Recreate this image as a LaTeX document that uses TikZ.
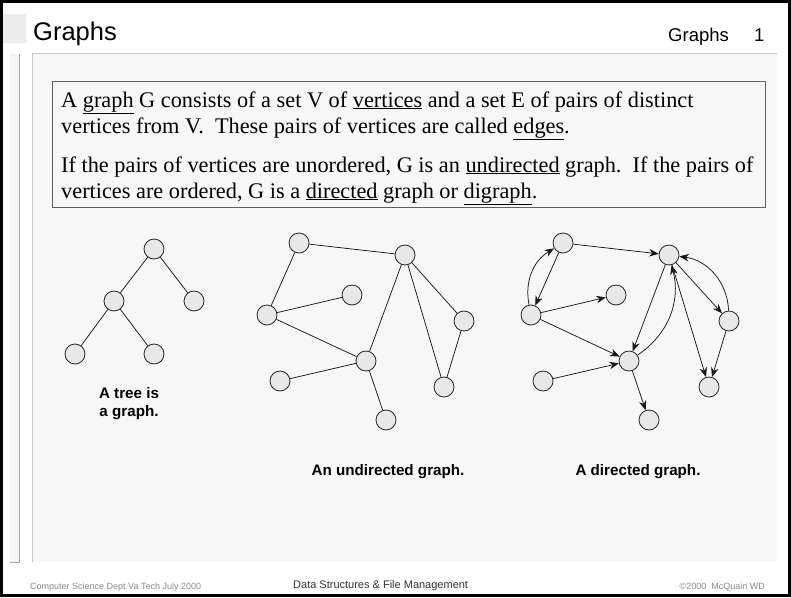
\documentclass[tikz,border=0pt]{standalone}
\usepackage{fontspec}
\setmainfont{Liberation Serif}
\setsansfont{Liberation Sans}
\usetikzlibrary{arrows.meta}
\definecolor{panel}{HTML}{F7F7F7}
\definecolor{vfill}{HTML}{E8E8E8}
\definecolor{boxline}{HTML}{606060}
\definecolor{rule}{HTML}{C8C8C8}
\definecolor{foot}{HTML}{8A8A8A}
\tikzset{
  vtx/.style={circle, draw=black!85, fill=vfill, minimum size=20pt, inner sep=0pt, line width=0.8pt},
  edge/.style={line width=0.75pt, black!90},
  arr/.style={edge, -{Stealth[length=9.5pt,width=7.5pt,inset=3pt]}},
  txt/.style={anchor=base west, inner sep=0pt, font=\fontsize{22.3}{26}\selectfont},
  lbl/.style={anchor=base, inner sep=0pt, font=\sffamily\bfseries\fontsize{15.2}{18}\selectfont},
}
\begin{document}
\begin{tikzpicture}[x=1pt,y=-1pt]
\useasboundingbox (0,0) rectangle (791,597);
\fill[white] (0,0) rectangle (791,597);
% header square
\fill[gray!15] (3,14) rectangle (26,43);
% left strip
\fill[gray!8] (10,54) rectangle (19,562);
\draw[gray!70, line width=0.8pt] (19,54) -- (19,562) -- (10,562);
% panel
\fill[panel] (32,53) rectangle (777,562);
\draw[rule, line width=0.8pt] (32,562) -- (32,53) -- (777,53);
% title
\node[anchor=base west, inner sep=0pt, font=\sffamily\fontsize{25.5}{30}\selectfont] (title) at (33,40) {Graphs};
\node[anchor=base west, inner sep=0pt, font=\sffamily\fontsize{18.5}{22}\selectfont] (htag) at (668,41) {Graphs};
\node[anchor=base west, inner sep=0pt, font=\sffamily\fontsize{18.5}{22}\selectfont] (hnum) at (754,41) {1};
% text box
\draw[boxline, line width=1pt, fill=panel] (52,81) rectangle (765,207);
\node[txt] (l1) at (61,107) {A \underline{graph} G consists of a set V of \underline{vertices} and a set E of pairs of distinct};
\node[txt] (l2) at (61,133) {vertices from V.\ \ These pairs of vertices are called \underline{edges}.};
\node[txt] (l3) at (61,172) {If the pairs of vertices are unordered, G is an \underline{undirected} graph.\ \ If the pairs of};
\node[txt] (l4) at (61,198) {vertices are ordered, G is a \underline{directed} graph or \underline{digraph}.};
% tree
\node[vtx] (t1) at (154,249) {};
\node[vtx] (t2) at (114,301) {};
\node[vtx] (t3) at (194,301) {};
\node[vtx] (t4) at (75,354) {};
\node[vtx] (t5) at (154,354) {};
\draw[edge] (t1) -- (t2) (t1) -- (t3) (t2) -- (t4) (t2) -- (t5);
\node[lbl] (tl1) at (129,398) {A tree is};
\node[lbl] (tl2) at (129,416) {a graph.};
% undirected graph
\node[vtx] (u1) at (299,243) {};
\node[vtx] (u2) at (405,255) {};
\node[vtx] (u3) at (352,295) {};
\node[vtx] (u4) at (267,315) {};
\node[vtx] (u5) at (464,321) {};
\node[vtx] (u6) at (366,361) {};
\node[vtx] (u7) at (280,381) {};
\node[vtx] (u8) at (444,387) {};
\node[vtx] (u9) at (386,420) {};
\draw[edge] (u1) -- (u2) (u1) -- (u4) (u4) -- (u3) (u4) -- (u6) (u6) -- (u7)
  (u6) -- (u9) (u6) -- (u2) (u2) -- (u8) (u2) -- (u5) (u5) -- (u8);
\node[lbl] (ul) at (388,475) {An undirected graph.};
% directed graph
\node[vtx] (d1) at (563,243) {};
\node[vtx] (d2) at (669,255) {};
\node[vtx] (d3) at (616,295) {};
\node[vtx] (d4) at (531,315) {};
\node[vtx] (d5) at (729,321) {};
\node[vtx] (d6) at (629,361) {};
\node[vtx] (d7) at (543,381) {};
\node[vtx] (d8) at (709,387) {};
\node[vtx] (d9) at (649,420) {};
\draw[arr] (d1) -- (d2);
\draw[arr] (d1) -- (d4);
\draw[arr] (d4) to[bend left=35] (d1);
\draw[arr] (d4) -- (d3);
\draw[arr] (d4) -- (d6);
\draw[arr] (d7) -- (d6);
\draw[arr] (d6) -- (d9);
\draw[arr] (d2) -- (d6);
\draw[arr] (d6) to[bend right=35] (d2);
\draw[arr] (d2) -- (d8);
\draw[arr] (d2) -- (d5);
\draw[arr] (d5) to[bend right=40] (d2);
\draw[arr] (d5) -- (d8);
\node[lbl] (dl) at (638,475) {A directed graph.};
% footer
\node[anchor=base west, inner sep=0pt, text=foot, font=\sffamily\fontsize{9}{11}\selectfont] (f1) at (30,589) {Computer Science Dept Va Tech July 2000};
\node[anchor=base west, inner sep=0pt, text=black!80, font=\sffamily\fontsize{11}{13}\selectfont] (f2) at (293,588) {Data Structures \& File Management};
\node[anchor=base east, inner sep=0pt, text=foot, font=\sffamily\fontsize{9}{11}\selectfont] (f3) at (765,589) {\textcopyright2000\ \ McQuain WD};
% outer frame
\draw[black, line width=3pt] (1.5,1.5) rectangle (789.5,595.5);
\end{tikzpicture}
\end{document}
